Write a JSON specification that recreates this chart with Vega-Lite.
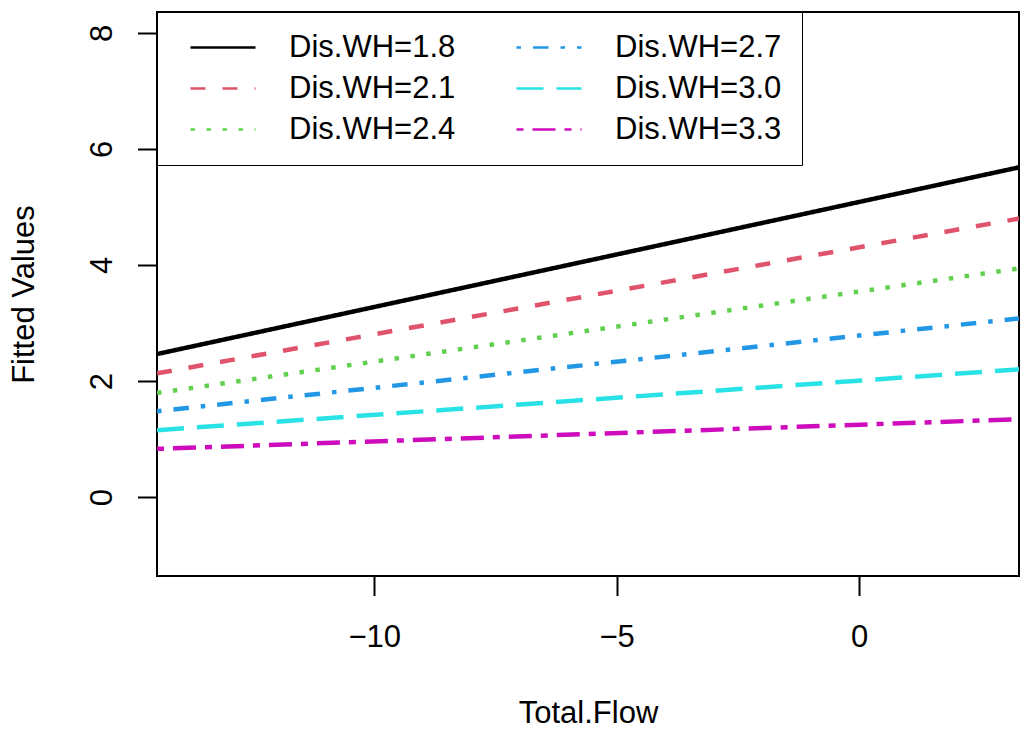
{
  "$schema": "https://vega.github.io/schema/vega-lite/v6.json",
  "width": 862,
  "height": 564,
  "autosize": {"type": "none"},
  "padding": {"left": 157, "top": 12, "right": 2, "bottom": 154},
  "background": "white",
  "config": {
    "font": "Liberation Sans",
    "view": {"stroke": "black", "strokeWidth": 2},
    "axis": {"grid": false, "domain": false, "tickColor": "black", "tickWidth": 2, "tickSize": 19.5,
             "labelFont": "Liberation Sans", "labelFontSize": 31, "labelColor": "black",
             "titleFont": "Liberation Sans", "titleFontSize": 31, "titleFontWeight": "normal", "titleColor": "black"}
  },
  "data": {
    "values": [
      {"series": "Dis.WH=1.8", "flow": -14.48, "fitted": 2.465},
      {"series": "Dis.WH=1.8", "flow": 3.30, "fitted": 5.683},
      {"series": "Dis.WH=2.1", "flow": -14.48, "fitted": 2.133},
      {"series": "Dis.WH=2.1", "flow": 3.30, "fitted": 4.80},
      {"series": "Dis.WH=2.4", "flow": -14.48, "fitted": 1.794},
      {"series": "Dis.WH=2.4", "flow": 3.30, "fitted": 3.94},
      {"series": "Dis.WH=2.7", "flow": -14.48, "fitted": 1.48},
      {"series": "Dis.WH=2.7", "flow": 3.30, "fitted": 3.08},
      {"series": "Dis.WH=3.0", "flow": -14.48, "fitted": 1.153},
      {"series": "Dis.WH=3.0", "flow": 3.30, "fitted": 2.202},
      {"series": "Dis.WH=3.3", "flow": -14.48, "fitted": 0.831},
      {"series": "Dis.WH=3.3", "flow": 3.30, "fitted": 1.342}
    ]
  },
  "mark": {"type": "line", "strokeWidth": 4.5, "strokeCap": "butt", "clip": true},
  "encoding": {
    "x": {"field": "flow", "type": "quantitative",
          "scale": {"domain": [-14.48, 3.30], "nice": false, "zero": false},
          "axis": {"values": [-10, -5, 0], "title": "Total.Flow", "labelBaseline": "alphabetic", "labelPadding": 51,
                   "titleY": 146, "titleBaseline": "alphabetic"}},
    "y": {"field": "fitted", "type": "quantitative",
          "scale": {"domain": [-1.36, 8.36], "nice": false, "zero": false},
          "axis": {"values": [0, 2, 4, 6, 8], "title": "Fitted Values", "labelAngle": -90, "labelAlign": "center",
                   "labelBaseline": "alphabetic", "labelPadding": 26,
                   "titleX": -123.5, "titleY": 282, "titleAngle": -90, "titleAlign": "center", "titleBaseline": "alphabetic"}},
    "color": {"field": "series", "type": "nominal",
              "scale": {"domain": ["Dis.WH=1.8", "Dis.WH=2.1", "Dis.WH=2.4", "Dis.WH=2.7", "Dis.WH=3.0", "Dis.WH=3.3"],
                        "range": ["#000000", "#DF536B", "#61D04F", "#2297E6", "#28E2E5", "#CD0BBC"]},
              "legend": {"title": null, "orient": "top-left", "offset": 0, "columns": 2, "columnPadding": 47, "rowPadding": 9,
                         "padding": 20, "symbolOffset": 12, "labelOffset": 32, "symbolType": "stroke", "symbolSize": 4225,
                         "clipHeight": 31,
                         "symbolStrokeWidth": 2.5, "labelFontSize": 31, "labelFont": "Liberation Sans", "labelColor": "black",
                         "strokeColor": "black", "fillColor": "white", "labelLimit": 400}},
    "strokeDash": {"field": "series", "type": "nominal",
                   "scale": {"domain": ["Dis.WH=1.8", "Dis.WH=2.1", "Dis.WH=2.4", "Dis.WH=2.7", "Dis.WH=3.0", "Dis.WH=3.3"],
                             "range": [[1, 0], [15, 17], [4.5, 11.5], [4.5, 12, 15.5, 12], [27, 13], [7, 9, 23, 9]]},
                   "legend": null}
  }
}
